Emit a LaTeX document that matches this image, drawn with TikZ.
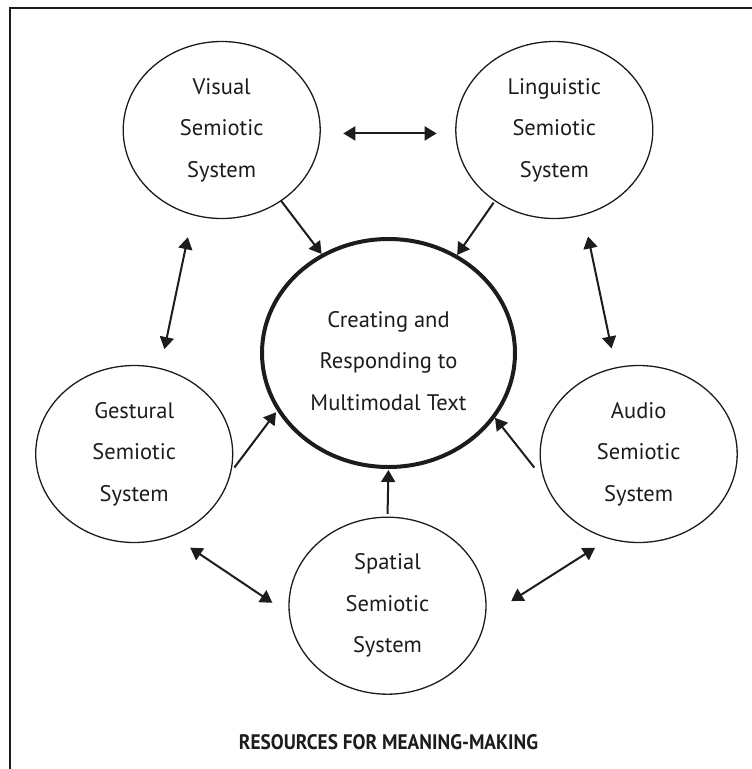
\documentclass[tikz,border=0pt]{standalone}
\usepackage{fontspec}
\setmainfont{PT Sans}
\usetikzlibrary{shapes.geometric,arrows.meta}
\definecolor{ink}{HTML}{1C1C1C}
\tikzset{
  sys/.style={ellipse, draw=ink, line width=1.3pt, minimum width=197pt,
    minimum height=177pt, inner sep=0pt, outer sep=0pt, align=center,
    text=ink, font=\fontsize{22.5}{41.5}\selectfont},
  core/.style={ellipse, draw=ink, line width=4pt, minimum width=253pt,
    minimum height=228pt, inner sep=0pt, outer sep=0pt},
  coretext/.style={align=center, text=ink, inner sep=0pt,
    font=\fontsize{22.5}{41.5}\selectfont},
  caption/.style={text=ink, inner sep=0pt, font=\fontsize{21}{24}\bfseries},
  frameline/.style={draw=ink, line width=2.5pt},
  tip/.tip={Triangle[length=12pt,width=14pt]},
  link/.style={draw=ink, line width=2pt, -tip},
  twoway/.style={draw=ink, line width=2pt, tip-tip},
}
\begin{document}
\begin{tikzpicture}[x=1pt, y=-1pt]
  \useasboundingbox (0,0) rectangle (752,769);
  % open frame: left and top edges
  \draw[frameline] (10,769) -- (10,8) -- (752,8);

  % the five semiotic systems and the central text
  \node[sys] (V) at (221.7,130) {Visual\\Semiotic\\System};
  \node[sys] (L) at (554.3,130) {Linguistic\\Semiotic\\System};
  \node[sys] (G) at (134.2,454) {Gestural\\Semiotic\\System};
  \node[sys] (A) at (638.7,454) {Audio\\Semiotic\\System};
  \node[sys] (S) at (387.5,605.7) {Spatial\\Semiotic\\System};
  \node[core] (C) at (388.5,353) {};
  \node[coretext] (Ct) at (388.5,361) {Creating and\\Responding to\\Multimodal Text};

  \node[caption] (cap) at (388.5,742.5) {\scalebox{0.92}[1]{RESOURCES FOR MEANING-MAKING}};

  % links between neighbouring systems
  \draw[twoway, shorten <=23.2pt, shorten >=19.2pt] (V.-2.9) -- (L.182.9);
  \draw[twoway, shorten <=23.2pt, shorten >=20pt] (V.-109.8) -- (G.73.8);
  \draw[twoway, shorten <=22.4pt, shorten >=19.9pt] (L.-71.5) -- (A.105.8);
  \draw[twoway, shorten <=21.6pt, shorten >=20.6pt] (G.-65.3) -- (S.185.3);
  \draw[twoway, shorten <=17.2pt, shorten >=30.9pt] (A.251) -- (S.-7.4);

  % each system feeds the central text
  \draw[link, shorten >=2pt] (V.-50.1) -- (C.124.7);
  \draw[link, shorten <=2.4pt, shorten >=2pt] (L.-130.5) -- (C.55.4);
  \draw[link, shorten <=6.5pt, shorten >=3.9pt] (G.-11.2) -- (C.207.6);
  \draw[link, shorten <=17pt, shorten >=2pt] (A.196.4) -- (C.329.8);
  \draw[link, shorten <=3.4pt, shorten >=3pt] (S.90) -- (C.270);
\end{tikzpicture}
\end{document}
